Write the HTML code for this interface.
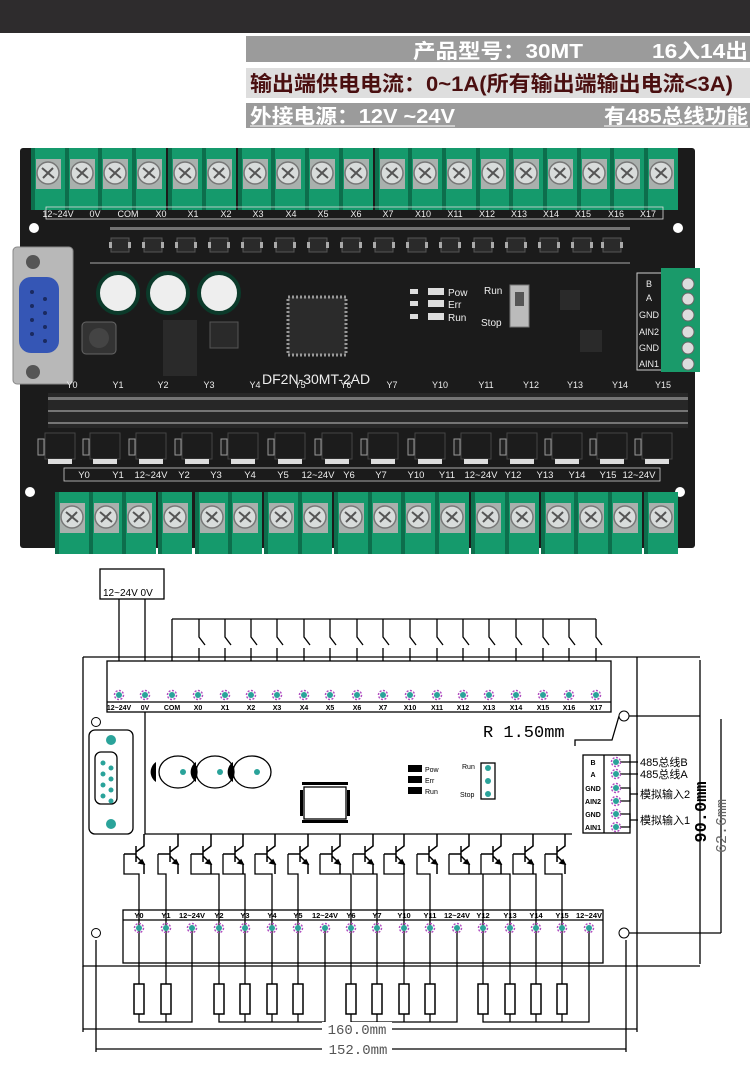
<!DOCTYPE html>
<html><head><meta charset="utf-8"><style>
html,body{margin:0;padding:0;background:#fff}
svg{display:block}
.cj{font-family:"Liberation Sans","Noto Sans CJK SC",sans-serif}
</style></head><body>
<svg width="750" height="1073" viewBox="0 0 750 1073" xmlns="http://www.w3.org/2000/svg" class="cj">
<defs>
<g id="tt">
 <rect x="-17" y="-25" width="34" height="62" fill="#159a6c"/>
 <rect x="-17" y="-25" width="4" height="62" fill="#0d6e4c"/>
 <rect x="-12" y="-14" width="25" height="30" fill="#a9b0ad"/>
 <circle cx="0" cy="0" r="11" fill="#d8dcdb" stroke="#777" stroke-width="1.5"/>
 <path d="M-6,-5 L6,5 M-5,5 L5,-5" stroke="#555" stroke-width="2"/>
</g>
<g id="pin"><circle r="4.5" fill="none" stroke="#b050c0" stroke-width="1.5" stroke-dasharray="2 1.5"/><circle r="3" fill="#2aa39a"/></g>
<g id="tr" fill="none" stroke="#000" stroke-width="1.5">
 <path d="M8,0 V12 L0,18 M0,12 V28 M0,22 L8,30 V40 M-12,20 H0"/>
 <path d="M8,30 L3,29 L6,26 Z" fill="#000"/>
</g>
<g id="res"><rect x="-5" y="0" width="10" height="30" fill="#fff" stroke="#000" stroke-width="1.5"/></g>
<g id="chip"><rect x="-9" y="-7" width="18" height="14" fill="#2a2a2a" stroke="#555"/><rect x="-11" y="-3" width="3" height="6" fill="#aaa"/><rect x="8" y="-3" width="3" height="6" fill="#aaa"/></g>
<g id="mos"><rect x="-15" y="-14" width="30" height="26" fill="#1c1c1c" stroke="#444"/><rect x="-12" y="12" width="24" height="5" fill="#ddd"/><rect x="-22" y="-8" width="6" height="16" fill="#222" stroke="#999"/></g>
</defs>

<!-- header -->
<rect x="0" y="0" width="750" height="33" fill="#2e2c2d"/>
<rect x="246" y="36" width="504" height="26" fill="#9b9b9b"/>
<rect x="246" y="68" width="504" height="30" fill="#dedede"/>
<rect x="246" y="103" width="504" height="25" fill="#9b9b9b"/>
<g font-weight="bold">
<text x="413" y="58" font-size="20" fill="#fff" textLength="170" lengthAdjust="spacingAndGlyphs">产品型号：30MT</text>
<text x="652" y="58" font-size="20" fill="#fff" textLength="96" lengthAdjust="spacingAndGlyphs">16入14出</text>
<text x="250" y="91" font-size="21" fill="#4a0f10" textLength="483" lengthAdjust="spacingAndGlyphs">输出端供电电流：0~1A(所有输出端输出电流&lt;3A)</text>
<text x="250" y="123" font-size="20" fill="#fff" textLength="205" lengthAdjust="spacingAndGlyphs">外接电源：12V ~24V</text>
<text x="604" y="123" font-size="20" fill="#fff" textLength="144" lengthAdjust="spacingAndGlyphs">有485总线功能</text>
</g>
<line x1="250" y1="126" x2="455" y2="126" stroke="#fff"/><line x1="604" y1="126" x2="748" y2="126" stroke="#fff"/>

<!-- PCB -->
<rect x="20" y="148" width="675" height="400" rx="3" fill="#1b1b1b"/>
<g fill="#fff"><circle cx="34" cy="228" r="5"/><circle cx="678" cy="228" r="5"/><circle cx="30" cy="492" r="5"/><circle cx="680" cy="492" r="5"/></g>
<g>
<use href="#tt" x="48" y="173"/><use href="#tt" x="82" y="173"/><use href="#tt" x="115" y="173"/><use href="#tt" x="149" y="173"/><use href="#tt" x="185" y="173"/><use href="#tt" x="219" y="173"/><use href="#tt" x="255" y="173"/><use href="#tt" x="288" y="173"/><use href="#tt" x="322" y="173"/><use href="#tt" x="356" y="173"/><use href="#tt" x="392" y="173"/><use href="#tt" x="425" y="173"/><use href="#tt" x="459" y="173"/><use href="#tt" x="493" y="173"/><use href="#tt" x="526" y="173"/><use href="#tt" x="560" y="173"/><use href="#tt" x="594" y="173"/><use href="#tt" x="627" y="173"/><use href="#tt" x="661" y="173"/>
</g>
<rect x="46" y="207" width="617" height="12" fill="none" stroke="#ddd" stroke-width="0.8"/>
<g font-size="9" fill="#eee" text-anchor="middle" font-family="Liberation Sans,sans-serif">
<text x="58" y="217">12~24V</text><text x="95" y="217">0V</text><text x="128" y="217">COM</text><text x="161" y="217">X0</text><text x="193" y="217">X1</text><text x="226" y="217">X2</text><text x="258" y="217">X3</text><text x="291" y="217">X4</text><text x="323" y="217">X5</text><text x="356" y="217">X6</text><text x="388" y="217">X7</text><text x="423" y="217">X10</text><text x="455" y="217">X11</text><text x="487" y="217">X12</text><text x="519" y="217">X13</text><text x="551" y="217">X14</text><text x="583" y="217">X15</text><text x="616" y="217">X16</text><text x="648" y="217">X17</text>
</g>
<g>
<use href="#chip" x="120" y="245"/><use href="#chip" x="153" y="245"/><use href="#chip" x="186" y="245"/><use href="#chip" x="219" y="245"/><use href="#chip" x="252" y="245"/><use href="#chip" x="285" y="245"/><use href="#chip" x="318" y="245"/><use href="#chip" x="351" y="245"/><use href="#chip" x="384" y="245"/><use href="#chip" x="417" y="245"/><use href="#chip" x="450" y="245"/><use href="#chip" x="483" y="245"/><use href="#chip" x="516" y="245"/><use href="#chip" x="549" y="245"/><use href="#chip" x="582" y="245"/><use href="#chip" x="612" y="245"/>
</g>
<g fill="#ccc"><rect x="110" y="227" width="520" height="3" opacity="0.5"/><rect x="90" y="262" width="540" height="2" opacity="0.4"/></g>
<rect x="13" y="247" width="60" height="137" rx="4" fill="#b8b8b8" stroke="#888"/>
<circle cx="33" cy="262" r="7" fill="#555"/><circle cx="33" cy="372" r="7" fill="#555"/>
<rect x="19" y="277" width="40" height="76" rx="12" fill="#3556b5"/>
<g fill="#1a2a60"><circle cx="32" cy="292" r="2"/><circle cx="32" cy="306" r="2"/><circle cx="32" cy="320" r="2"/><circle cx="32" cy="334" r="2"/><circle cx="45" cy="299" r="2"/><circle cx="45" cy="313" r="2"/><circle cx="45" cy="327" r="2"/><circle cx="45" cy="341" r="2"/></g>
<g stroke="#0b3a2a" stroke-width="4"><circle cx="118" cy="293" r="20" fill="#eee"/><circle cx="168" cy="293" r="20" fill="#eee"/><circle cx="219" cy="293" r="20" fill="#eee"/></g>
<rect x="82" y="322" width="34" height="32" rx="4" fill="#333" stroke="#666"/><circle cx="99" cy="338" r="10" fill="#444"/>
<rect x="163" y="320" width="34" height="56" fill="#2a2a2a"/>
<rect x="210" y="322" width="28" height="26" fill="#2a2a2a" stroke="#555"/>
<rect x="288" y="297" width="58" height="58" fill="#2b2b2b" stroke="#999" stroke-dasharray="2 2" stroke-width="3"/>
<text x="262" y="384" font-size="14" fill="#eee" font-family="Liberation Sans,sans-serif">DF2N-30MT-2AD</text>
<g font-size="10" fill="#eee" font-family="Liberation Sans,sans-serif"><text x="448" y="296">Pow</text><text x="448" y="308">Err</text><text x="448" y="321">Run</text><text x="484" y="294">Run</text><text x="481" y="326">Stop</text></g>
<g fill="#ddd"><rect x="410" y="289" width="8" height="5"/><rect x="428" y="288" width="16" height="7"/><rect x="410" y="301" width="8" height="5"/><rect x="428" y="300" width="16" height="7"/><rect x="410" y="314" width="8" height="5"/><rect x="428" y="313" width="16" height="7"/></g>
<rect x="510" y="285" width="19" height="42" fill="#bbb" stroke="#777"/><rect x="515" y="292" width="9" height="14" fill="#555"/>
<rect x="560" y="290" width="20" height="20" fill="#2a2a2a"/><rect x="580" y="330" width="22" height="22" fill="#2a2a2a"/>
<rect x="637" y="273" width="25" height="97" fill="#1b1b1b" stroke="#ccc"/>
<rect x="661" y="268" width="39" height="104" fill="#1a9a6a"/>
<g fill="#ddd" stroke="#666"><circle cx="688" cy="284" r="6"/><circle cx="688" cy="299" r="6"/><circle cx="688" cy="315" r="6"/><circle cx="688" cy="332" r="6"/><circle cx="688" cy="348" r="6"/><circle cx="688" cy="364" r="6"/></g>
<g font-size="9" fill="#eee" text-anchor="middle" font-family="Liberation Sans,sans-serif"><text x="649" y="287">B</text><text x="649" y="301">A</text><text x="649" y="318">GND</text><text x="649" y="335">AIN2</text><text x="649" y="351">GND</text><text x="649" y="367">AIN1</text></g>
<g font-size="9" fill="#eee" text-anchor="middle" font-family="Liberation Sans,sans-serif">
<text x="72" y="388">Y0</text><text x="118" y="388">Y1</text><text x="163" y="388">Y2</text><text x="209" y="388">Y3</text><text x="255" y="388">Y4</text><text x="300" y="388">Y5</text><text x="346" y="388">Y6</text><text x="392" y="388">Y7</text><text x="440" y="388">Y10</text><text x="486" y="388">Y11</text><text x="531" y="388">Y12</text><text x="575" y="388">Y13</text><text x="620" y="388">Y14</text><text x="663" y="388">Y15</text>
</g>
<rect x="48" y="393" width="640" height="35" fill="#2a2a2a" opacity="0.8"/>
<g fill="#aaa" opacity="0.6"><rect x="48" y="397" width="640" height="3"/><rect x="48" y="410" width="640" height="2"/><rect x="48" y="422" width="640" height="2"/></g>
<g>
<use href="#mos" x="60" y="447"/><use href="#mos" x="105" y="447"/><use href="#mos" x="151" y="447"/><use href="#mos" x="197" y="447"/><use href="#mos" x="243" y="447"/><use href="#mos" x="290" y="447"/><use href="#mos" x="337" y="447"/><use href="#mos" x="383" y="447"/><use href="#mos" x="430" y="447"/><use href="#mos" x="476" y="447"/><use href="#mos" x="522" y="447"/><use href="#mos" x="567" y="447"/><use href="#mos" x="612" y="447"/><use href="#mos" x="657" y="447"/>
</g>
<rect x="64" y="468" width="596" height="13" fill="none" stroke="#ccc" stroke-width="0.8"/>
<g font-size="9.5" fill="#eee" text-anchor="middle" font-family="Liberation Sans,sans-serif">
<text x="84" y="478">Y0</text><text x="118" y="478">Y1</text><text x="151" y="478">12~24V</text><text x="184" y="478">Y2</text><text x="216" y="478">Y3</text><text x="250" y="478">Y4</text><text x="283" y="478">Y5</text><text x="318" y="478">12~24V</text><text x="349" y="478">Y6</text><text x="381" y="478">Y7</text><text x="416" y="478">Y10</text><text x="447" y="478">Y11</text><text x="481" y="478">12~24V</text><text x="513" y="478">Y12</text><text x="545" y="478">Y13</text><text x="577" y="478">Y14</text><text x="608" y="478">Y15</text><text x="639" y="478">12~24V</text>
</g>
<g>
<use href="#tt" x="72" y="517"/><use href="#tt" x="106" y="517"/><use href="#tt" x="139" y="517"/><use href="#tt" x="175" y="517"/><use href="#tt" x="212" y="517"/><use href="#tt" x="245" y="517"/><use href="#tt" x="281" y="517"/><use href="#tt" x="315" y="517"/><use href="#tt" x="351" y="517"/><use href="#tt" x="385" y="517"/><use href="#tt" x="418" y="517"/><use href="#tt" x="452" y="517"/><use href="#tt" x="488" y="517"/><use href="#tt" x="522" y="517"/><use href="#tt" x="558" y="517"/><use href="#tt" x="591" y="517"/><use href="#tt" x="625" y="517"/><use href="#tt" x="661" y="517"/>
</g>

<!-- DIAGRAM -->
<g fill="none" stroke="#000" stroke-width="1.3">
<rect x="100" y="569" width="64" height="30"/>
<path d="M119,599 V695 M145,599 V695"/>
<path d="M172,619 H596 M172,619 V695"/>
<path d="M199,619 V637 L205,645 M199,648 V695 M225,619 V637 L231,645 M225,648 V695 M251,619 V637 L257,645 M251,648 V695 M277,619 V637 L283,645 M277,648 V695 M304,619 V637 L310,645 M304,648 V695 M330,619 V637 L336,645 M330,648 V695 M357,619 V637 L363,645 M357,648 V695 M383,619 V637 L389,645 M383,648 V695 M410,619 V637 L416,645 M410,648 V695 M437,619 V637 L443,645 M437,648 V695 M463,619 V637 L469,645 M463,648 V695 M489,619 V637 L495,645 M489,648 V695 M516,619 V637 L522,645 M516,648 V695 M543,619 V637 L549,645 M543,648 V695 M569,619 V637 L575,645 M569,648 V695 M596,619 V637 L602,645 M596,648 V695"/>
<path d="M83,657 H700 M83,657 V966 H700 M637,657 V966"/>
<rect x="107" y="661" width="504" height="51" fill="#fff"/>
<line x1="107" y1="702" x2="611" y2="702"/>
<path d="M145,712 V834 H572"/>
<rect x="89" y="730" width="44" height="104" rx="6"/>
<rect x="95" y="752" width="22" height="52" rx="6"/>
<ellipse cx="178" cy="772" rx="19" ry="16"/><ellipse cx="215" cy="772" rx="19" ry="16"/><ellipse cx="252" cy="772" rx="19" ry="16"/>
<rect x="304" y="787" width="42" height="32"/>
<rect x="481" y="763" width="14" height="36"/>
<rect x="583" y="755" width="47" height="78"/><line x1="604" y1="755" x2="604" y2="833"/>
<path d="M620,762 H638 M620,774 H638 M620,788 H630 V801 H620 M630,794 H638 M620,814 H630 V827 H620 M630,820 H638"/>
<path d="M620,716 H700 M700,660 V964 M620,933 H721 M721,719 V933"/>
<path d="M575,746 V740 H612 L619,716"/>
<rect x="123" y="910" width="480" height="53" fill="#fff"/>
<line x1="123" y1="920" x2="603" y2="920"/>
<path d="M83,966 V1032 M637,966 V1032 M96,940 V1052 M626,940 V1052 M83,1029 H637 M96,1049 H626"/>
</g>
<circle cx="96" cy="722" r="4.5" fill="none" stroke="#000"/><circle cx="624" cy="716" r="5" fill="#fff" stroke="#000"/>
<circle cx="96" cy="933" r="4.5" fill="none" stroke="#000"/><circle cx="624" cy="933" r="5" fill="#fff" stroke="#000"/>
<path d="M156,762 A12,12 0 0,0 156,782 Z M196,762 A12,12 0 0,0 196,782 Z M233,762 A12,12 0 0,0 233,782 Z" fill="#000"/>
<circle cx="111" cy="740" r="5" fill="#2aa39a"/><circle cx="111" cy="824" r="5" fill="#2aa39a"/>
<g fill="#2aa39a"><circle cx="103" cy="763" r="2.5"/><circle cx="103" cy="774" r="2.5"/><circle cx="103" cy="785" r="2.5"/><circle cx="103" cy="796" r="2.5"/><circle cx="111" cy="768" r="2.5"/><circle cx="111" cy="779" r="2.5"/><circle cx="111" cy="790" r="2.5"/><circle cx="111" cy="801" r="2.5"/><circle cx="183" cy="772" r="3"/><circle cx="220" cy="772" r="3"/><circle cx="257" cy="772" r="3"/><circle cx="488" cy="768" r="3"/><circle cx="488" cy="781" r="3"/><circle cx="488" cy="794" r="3"/></g>
<g fill="#000"><rect x="302" y="782" width="46" height="3"/><rect x="302" y="820" width="46" height="3"/><rect x="300" y="790" width="3" height="26"/><rect x="347" y="790" width="3" height="26"/>
<rect x="408" y="765" width="14" height="7"/><rect x="408" y="776" width="14" height="7"/><rect x="408" y="787" width="14" height="7"/></g>
<g font-family="Liberation Sans,sans-serif" fill="#000">
<text x="103" y="596" font-size="10">12~24V 0V</text>
<text x="425" y="772" font-size="7">Pow</text><text x="425" y="783" font-size="7">Err</text><text x="425" y="794" font-size="7">Run</text>
<text x="462" y="769" font-size="7">Run</text><text x="460" y="797" font-size="7">Stop</text>
<text x="483" y="737" font-size="17" font-family="Liberation Mono,monospace">R 1.50mm</text>
</g>
<g>
<use href="#pin" x="119" y="695"/><use href="#pin" x="145" y="695"/><use href="#pin" x="172" y="695"/><use href="#pin" x="198" y="695"/><use href="#pin" x="225" y="695"/><use href="#pin" x="251" y="695"/><use href="#pin" x="277" y="695"/><use href="#pin" x="304" y="695"/><use href="#pin" x="330" y="695"/><use href="#pin" x="357" y="695"/><use href="#pin" x="383" y="695"/><use href="#pin" x="410" y="695"/><use href="#pin" x="437" y="695"/><use href="#pin" x="463" y="695"/><use href="#pin" x="489" y="695"/><use href="#pin" x="516" y="695"/><use href="#pin" x="543" y="695"/><use href="#pin" x="569" y="695"/><use href="#pin" x="596" y="695"/>
<use href="#pin" x="616" y="762"/><use href="#pin" x="616" y="774"/><use href="#pin" x="616" y="788"/><use href="#pin" x="616" y="801"/><use href="#pin" x="616" y="814"/><use href="#pin" x="616" y="827"/>
</g>
<g font-size="7" font-weight="bold" text-anchor="middle" font-family="Liberation Sans,sans-serif">
<text x="119" y="710">12~24V</text><text x="145" y="710">0V</text><text x="172" y="710">COM</text><text x="198" y="710">X0</text><text x="225" y="710">X1</text><text x="251" y="710">X2</text><text x="277" y="710">X3</text><text x="304" y="710">X4</text><text x="330" y="710">X5</text><text x="357" y="710">X6</text><text x="383" y="710">X7</text><text x="410" y="710">X10</text><text x="437" y="710">X11</text><text x="463" y="710">X12</text><text x="489" y="710">X13</text><text x="516" y="710">X14</text><text x="543" y="710">X15</text><text x="569" y="710">X16</text><text x="596" y="710">X17</text>
<text x="593" y="765">B</text><text x="593" y="777">A</text><text x="593" y="791">GND</text><text x="593" y="804">AIN2</text><text x="593" y="817">GND</text><text x="593" y="830">AIN1</text>
</g>
<g font-size="11" fill="#000"><text x="640" y="766">485总线B</text><text x="640" y="778">485总线A</text><text x="640" y="798">模拟输入2</text><text x="640" y="824">模拟输入1</text></g>
<text transform="translate(706,812) rotate(-90)" font-size="17" font-weight="bold" text-anchor="middle" font-family="Liberation Mono,monospace">90.0mm</text>
<text transform="translate(726,826) rotate(-90)" font-size="15" fill="#666" text-anchor="middle" font-family="Liberation Mono,monospace">62.6mm</text>
<g>
<use href="#tr" x="136" y="834"/><use href="#tr" x="170" y="834"/><use href="#tr" x="203" y="834"/><use href="#tr" x="235" y="834"/><use href="#tr" x="267" y="834"/><use href="#tr" x="300" y="834"/><use href="#tr" x="332" y="834"/><use href="#tr" x="365" y="834"/><use href="#tr" x="396" y="834"/><use href="#tr" x="429" y="834"/><use href="#tr" x="461" y="834"/><use href="#tr" x="493" y="834"/><use href="#tr" x="525" y="834"/><use href="#tr" x="557" y="834"/>
</g>
<g fill="none" stroke="#000" stroke-width="1.3">
<path d="M124,854 V874 H139 V928 M158,854 V874 H166 V928 M191,854 V874 H219 V928 M223,854 V874 H245 V928 M255,854 V874 H272 V928 M288,854 V874 H298 V928 M320,854 V874 H351 V928 M353,854 V874 H377 V928 M384,854 V874 H404 V928 M417,854 V874 H430 V928 M449,854 V874 H483 V928 M481,854 V874 H510 V928 M513,854 V874 H536 V928 M545,854 V874 H562 V928"/>
<path d="M139,928 V984 M166,928 V984 M219,928 V984 M245,928 V984 M272,928 V984 M298,928 V984 M351,928 V984 M377,928 V984 M404,928 V984 M430,928 V984 M483,928 V984 M510,928 V984 M536,928 V984 M562,928 V984"/>
<path d="M139,1014 V1022 H192 V928 M166,1014 V1022 M219,1014 V1022 H325 V928 M245,1014 V1022 M272,1014 V1022 M298,1014 V1022 M351,1014 V1022 H457 V928 M377,1014 V1022 M404,1014 V1022 M430,1014 V1022 M483,1014 V1022 H589 V928 M510,1014 V1022 M536,1014 V1022 M562,1014 V1022"/>
</g>
<g>
<use href="#res" x="139" y="984"/><use href="#res" x="166" y="984"/><use href="#res" x="219" y="984"/><use href="#res" x="245" y="984"/><use href="#res" x="272" y="984"/><use href="#res" x="298" y="984"/><use href="#res" x="351" y="984"/><use href="#res" x="377" y="984"/><use href="#res" x="404" y="984"/><use href="#res" x="430" y="984"/><use href="#res" x="483" y="984"/><use href="#res" x="510" y="984"/><use href="#res" x="536" y="984"/><use href="#res" x="562" y="984"/>
<use href="#pin" x="139" y="928"/><use href="#pin" x="166" y="928"/><use href="#pin" x="192" y="928"/><use href="#pin" x="219" y="928"/><use href="#pin" x="245" y="928"/><use href="#pin" x="272" y="928"/><use href="#pin" x="298" y="928"/><use href="#pin" x="325" y="928"/><use href="#pin" x="351" y="928"/><use href="#pin" x="377" y="928"/><use href="#pin" x="404" y="928"/><use href="#pin" x="430" y="928"/><use href="#pin" x="457" y="928"/><use href="#pin" x="483" y="928"/><use href="#pin" x="510" y="928"/><use href="#pin" x="536" y="928"/><use href="#pin" x="562" y="928"/><use href="#pin" x="589" y="928"/>
</g>
<g font-size="7.5" font-weight="bold" text-anchor="middle" font-family="Liberation Sans,sans-serif">
<text x="139" y="918">Y0</text><text x="166" y="918">Y1</text><text x="192" y="918">12~24V</text><text x="219" y="918">Y2</text><text x="245" y="918">Y3</text><text x="272" y="918">Y4</text><text x="298" y="918">Y5</text><text x="325" y="918">12~24V</text><text x="351" y="918">Y6</text><text x="377" y="918">Y7</text><text x="404" y="918">Y10</text><text x="430" y="918">Y11</text><text x="457" y="918">12~24V</text><text x="483" y="918">Y12</text><text x="510" y="918">Y13</text><text x="536" y="918">Y14</text><text x="562" y="918">Y15</text><text x="589" y="918">12~24V</text>
</g>
<rect x="322" y="1022" width="70" height="14" fill="#fff"/><rect x="322" y="1042" width="70" height="14" fill="#fff"/>
<g font-size="14" fill="#555" text-anchor="middle" font-family="Liberation Mono,monospace"><text x="357" y="1034">160.0mm</text><text x="358" y="1054">152.0mm</text></g>
</svg>
</body></html>
